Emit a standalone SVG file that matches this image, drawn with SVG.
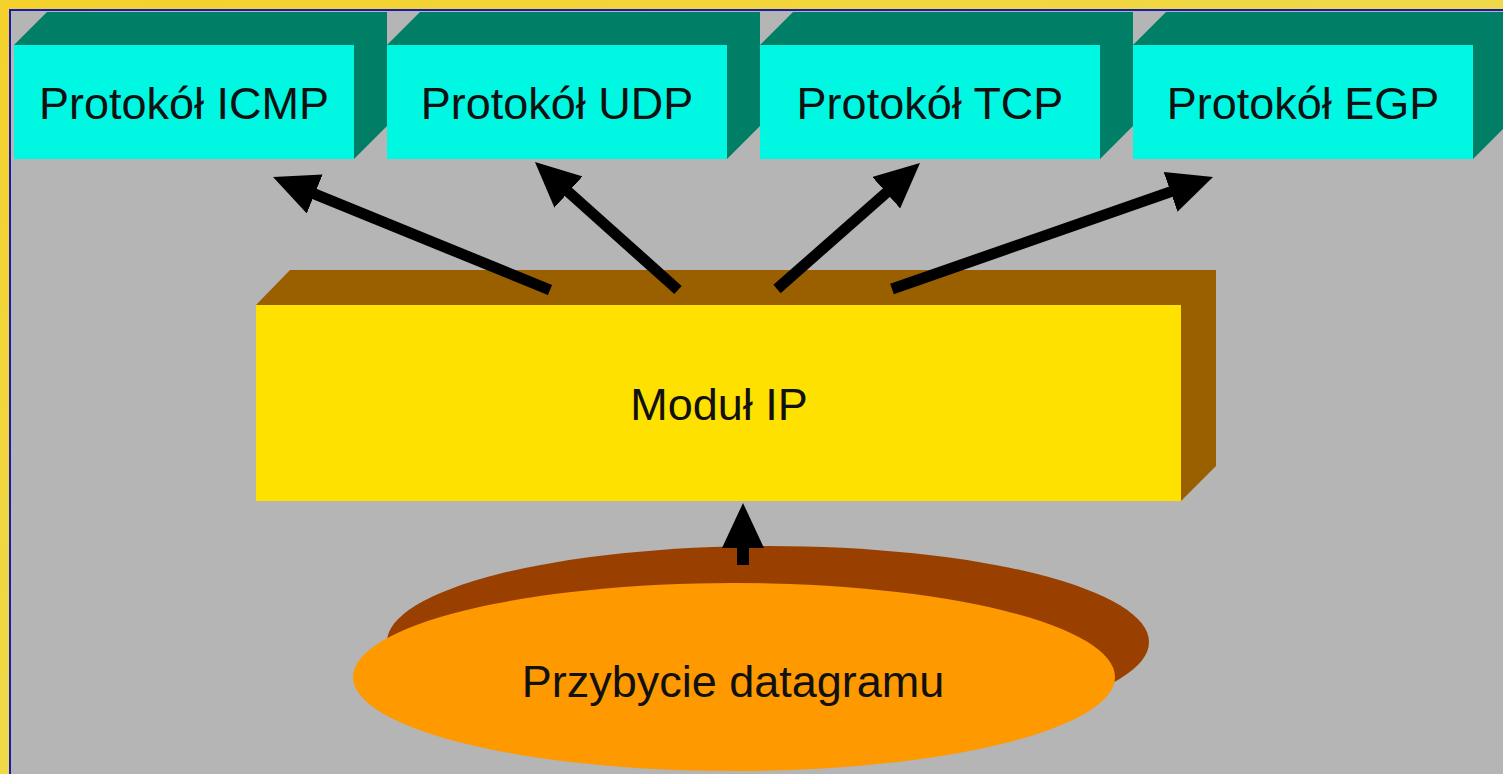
<svg xmlns="http://www.w3.org/2000/svg" width="1503" height="774" viewBox="0 0 1503 774">
  <defs>
    <linearGradient id="frameGrad" x1="0" y1="0" x2="1" y2="1">
      <stop offset="0" stop-color="#F4D12C"/>
      <stop offset="1" stop-color="#EAE266"/>
    </linearGradient>
    <marker id="head" viewBox="0 0 45 42" refX="15" refY="21" markerWidth="45" markerHeight="42" markerUnits="userSpaceOnUse" orient="auto">
      <path d="M0,0 L45,21 L0,42 Z" fill="#000"/>
    </marker>
    <style>
      .lbl { font-family: "Liberation Sans", Arial, sans-serif; font-size: 45px; fill: #111; text-anchor: middle; }
      .protoFront { fill: #00F8E2; }
      .protoSide { fill: #007F66; }
      .ipFront { fill: #FFE100; }
      .ipSide { fill: #9A6000; }
      .conn { stroke: #000; stroke-width: 11; fill: none; stroke-linecap: butt; marker-end: url(#head); }
    </style>
  </defs>

  <!-- frame and canvas -->
  <rect x="0" y="0" width="1503" height="774" fill="url(#frameGrad)"/>
  <rect x="10" y="10" width="1493" height="764" fill="#B5B5B5"/>
  <path d="M10,774 L10,10 L1503,10" fill="none" stroke="#1A1AB0" stroke-width="2"/>

  <!-- protocol boxes -->
  <g id="icmp">
    <polygon class="protoSide" points="14,45 47,12 387,12 387,126 354,159 354,45"/>
    <rect class="protoFront" x="14" y="45" width="340" height="114"/>
    <text class="lbl" x="184" y="119">Protokół ICMP</text>
  </g>
  <g id="udp">
    <polygon class="protoSide" points="387,45 420,12 760,12 760,126 727,159 727,45"/>
    <rect class="protoFront" x="387" y="45" width="340" height="114"/>
    <text class="lbl" x="557" y="119">Protokół UDP</text>
  </g>
  <g id="tcp">
    <polygon class="protoSide" points="760,45 793,12 1133,12 1133,126 1100,159 1100,45"/>
    <rect class="protoFront" x="760" y="45" width="340" height="114"/>
    <text class="lbl" x="930" y="119">Protokół TCP</text>
  </g>
  <g id="egp">
    <polygon class="protoSide" points="1133,45 1166,12 1506,12 1506,126 1473,159 1473,45"/>
    <rect class="protoFront" x="1133" y="45" width="340" height="114"/>
    <text class="lbl" x="1303" y="119">Protokół EGP</text>
  </g>

  <!-- IP module -->
  <g id="modul-ip">
    <polygon class="ipSide" points="256,305 290,270 1216,270 1216,466 1181,501 1181,305"/>
    <rect class="ipFront" x="256" y="305" width="925" height="196"/>
    <text class="lbl" x="719" y="420">Moduł IP</text>
  </g>

  <!-- incoming datagram -->
  <g id="datagram">
    <ellipse cx="768" cy="642" rx="381" ry="96" fill="#994000"/>
    <ellipse cx="734" cy="677" rx="381" ry="94" fill="#FF9900"/>
    <text class="lbl" x="733" y="697">Przybycie datagramu</text>
  </g>

  <!-- connectors -->
  <g id="connectors">
    <line class="conn" x1="550" y1="290" x2="300.8" y2="188.3"/>
    <line class="conn" x1="678" y1="290" x2="557.3" y2="182"/>
    <line class="conn" x1="777" y1="289" x2="897.5" y2="182.8"/>
    <line class="conn" x1="892" y1="289" x2="1184.7" y2="186.9"/>
    <line class="conn" x1="743" y1="565" x2="743" y2="533" style="stroke-width:12"/>
  </g>
</svg>
